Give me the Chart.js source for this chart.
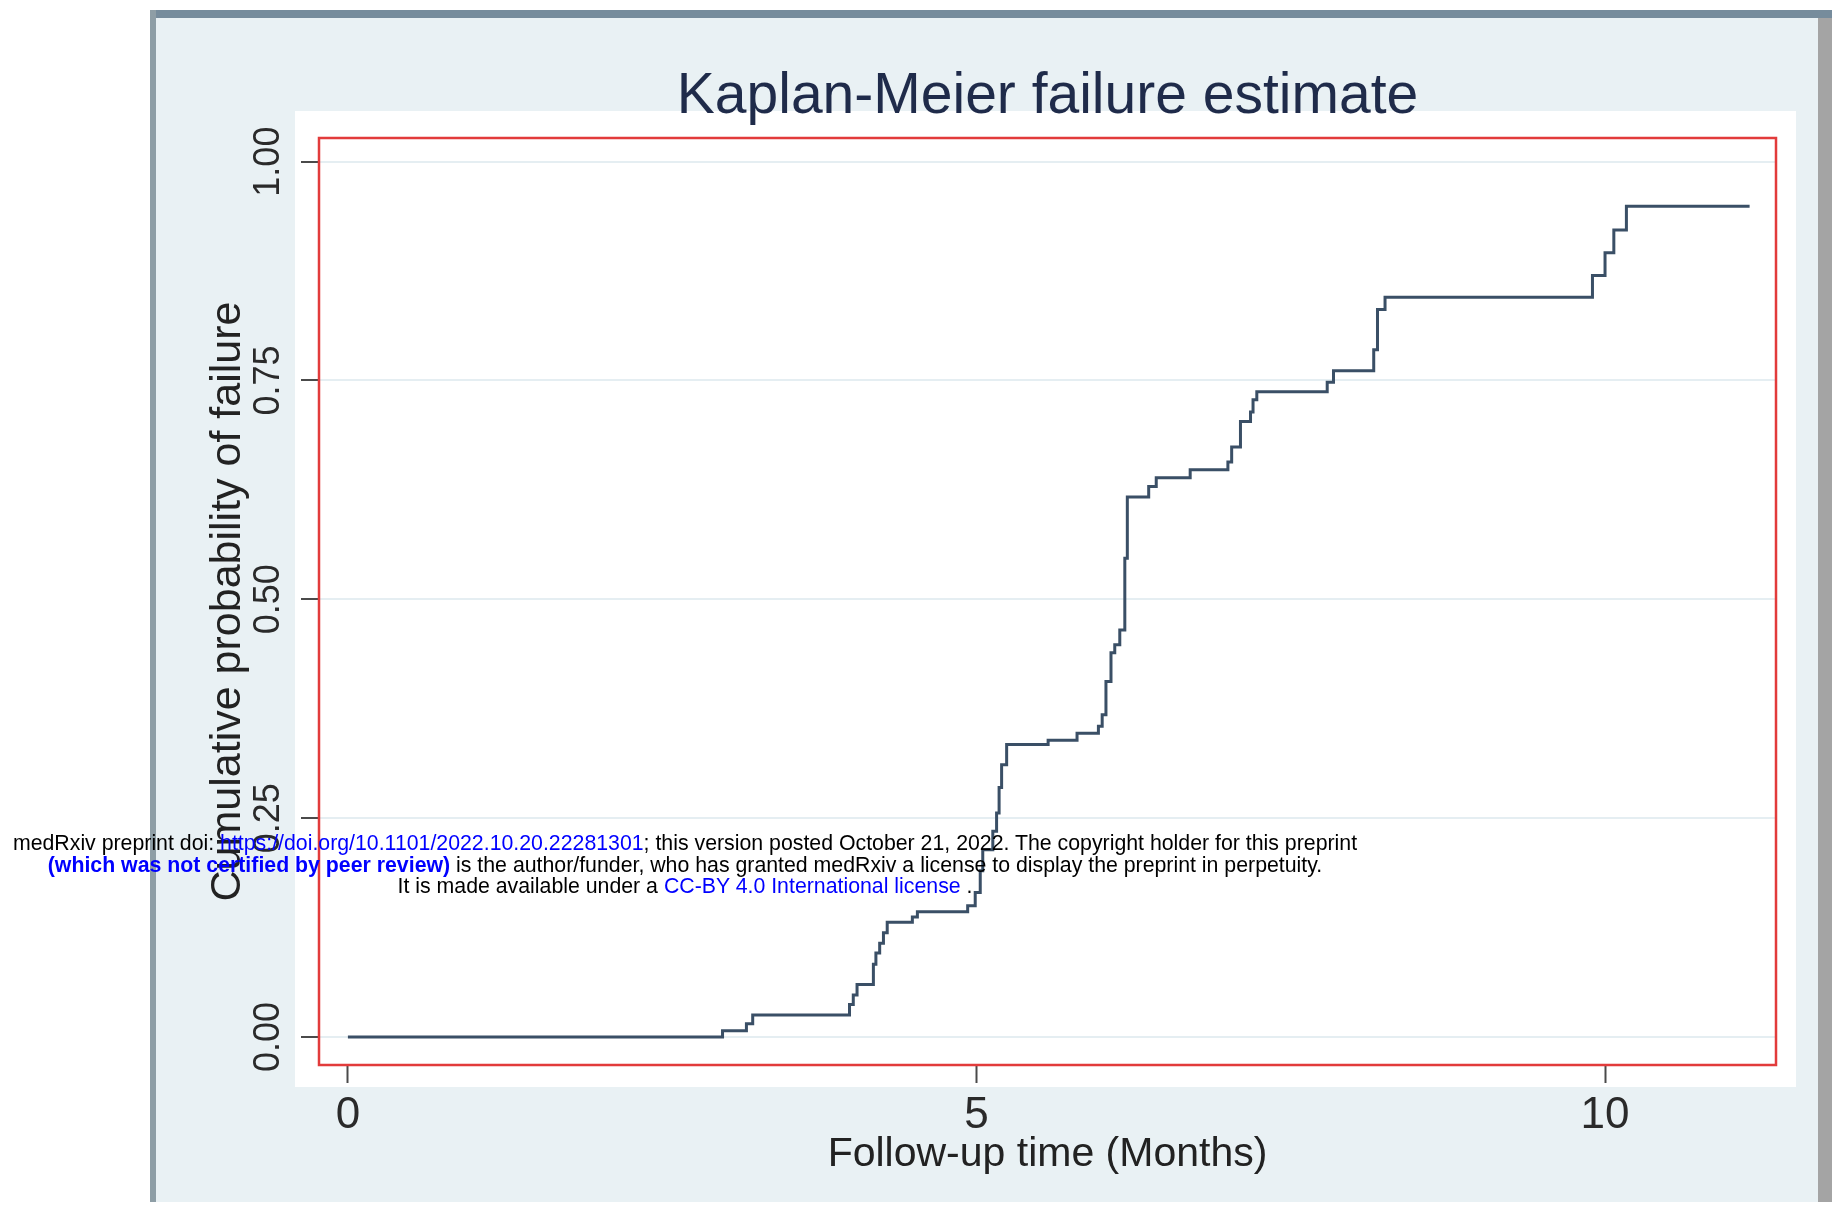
<!DOCTYPE html>
<html>
<head>
<meta charset="utf-8">
<script src="https://cdn.jsdelivr.net/npm/chart.js@4.4.1/dist/chart.umd.min.js"></script>
<style>
  html, body { margin: 0; padding: 0; background: #ffffff; }
  #wrap { position: relative; width: 1832px; height: 1205px; overflow: hidden; }
  #c { position: absolute; left: 0; top: 0; }
  #wm {
    position: absolute; left: 0; top: 833px; width: 1370px;
    text-align: center; font-family: "Liberation Sans", Arial, sans-serif;
    font-size: 21.3px; line-height: 21.6px; color: #000; white-space: nowrap;
  }
  #wm a { color: #0000ff; text-decoration: none; }
  #wm b { color: #0000ff; }
</style>
</head>
<body>
<div id="wrap">
  <canvas id="c" width="1832" height="1205"></canvas>
  <div id="wm">
    <div>medRxiv preprint doi: <a>https://doi.org/10.1101/2022.10.20.22281301</a>; this version posted October 21, 2022. The copyright holder for this preprint</div>
    <div><b>(which was not certified by peer review)</b> is the author/funder, who has granted medRxiv a license to display the preprint in perpetuity.</div>
    <div>It is made available under a <a>CC-BY 4.0 International license</a> .</div>
  </div>
</div>
<script>
// ---- data ----
const kmTimes = [0, 2.98, 3.17, 3.22, 3.99, 4.02, 4.05, 4.18, 4.20, 4.23, 4.26, 4.29, 4.49, 4.53, 4.93, 4.99, 5.03, 5.05, 5.13, 5.16, 5.18, 5.20, 5.24, 5.57, 5.80, 5.97, 6.00, 6.03, 6.07, 6.10, 6.14, 6.18, 6.20, 6.37, 6.43, 6.70, 7.00, 7.03, 7.10, 7.18, 7.20, 7.23, 7.79, 7.84, 8.16, 8.19, 8.25, 9.90, 10.00, 10.07, 10.17, 11.15];
const kmFailure = [0, 0.007, 0.015, 0.025, 0.037, 0.048, 0.060, 0.083, 0.096, 0.107, 0.119, 0.131, 0.137, 0.143, 0.150, 0.165, 0.190, 0.214, 0.235, 0.256, 0.285, 0.311, 0.334, 0.339, 0.347, 0.355, 0.368, 0.406, 0.439, 0.448, 0.465, 0.547, 0.617, 0.629, 0.639, 0.648, 0.657, 0.674, 0.703, 0.714, 0.728, 0.737, 0.748, 0.761, 0.785, 0.831, 0.845, 0.870, 0.896, 0.922, 0.949, 0.949];
const xTickValues = [0, 5, 10];
const yTickValues = [0, 0.25, 0.5, 0.75, 1];
const chartTitle = 'Kaplan-Meier failure estimate';
const xTitle = 'Follow-up time (Months)';
const yTitle = 'Cumulative probability of failure';

const points = kmTimes.map((t, i) => ({ x: t, y: kmFailure[i] }));
const FONT = '"Liberation Sans", Arial, sans-serif';

const framePlugin = {
  id: 'frame',
  beforeDraw(chart) {
    const ctx = chart.ctx;
    ctx.save();
    ctx.fillStyle = '#ffffff';
    ctx.fillRect(0, 0, 1832, 1205);
    ctx.fillStyle = '#e9f1f4';
    ctx.fillRect(150, 10, 1682, 1192);
    ctx.fillStyle = '#768c9c';
    ctx.fillRect(150, 10, 1682, 8);
    ctx.fillStyle = '#8e9ea6';
    ctx.fillRect(150, 10, 6, 1192);
    ctx.fillStyle = '#a4a4a4';
    ctx.fillRect(1818, 18, 14, 1184);
    ctx.fillStyle = '#ffffff';
    ctx.fillRect(295, 111, 1501, 976);
    ctx.restore();
  },
  afterDatasetsDraw(chart) {
    const a = chart.chartArea;
    const ctx = chart.ctx;
    ctx.save();
    ctx.strokeStyle = '#e23b3b';
    ctx.lineWidth = 2.5;
    ctx.strokeRect(a.left, a.top, a.right - a.left, a.bottom - a.top);
    ctx.restore();
  }
};

new Chart(document.getElementById('c'), {
  type: 'line',
  data: {
    datasets: [{
      data: points,
      stepped: true,
      borderColor: '#3a4f66',
      borderWidth: 3,
      pointRadius: 0,
      fill: false
    }]
  },
  options: {
    responsive: false,
    animation: false,
    devicePixelRatio: 1,
    layout: { padding: { top: 0, left: 0, right: 56, bottom: 0 } },
    plugins: {
      legend: { display: false },
      tooltip: { enabled: false },
      title: {
        display: true,
        text: chartTitle,
        fullSize: false,
        color: '#1f2b4a',
        font: { family: FONT, size: 57, weight: 'normal' },
        padding: { top: 63, bottom: 6.6 }
      }
    },
    scales: {
      x: {
        type: 'linear',
        min: -0.23,
        max: 11.36,
        afterBuildTicks: (s) => { s.ticks = xTickValues.map(v => ({ value: v })); },
        afterFit: (s) => { s.height = 140; },
        border: { display: false },
        grid: { drawOnChartArea: false, drawTicks: true, tickLength: 18, tickColor: '#4a4a4a', tickWidth: 2 },
        ticks: {
          color: '#2a2a2a',
          font: { family: FONT, size: 44 },
          padding: 6,
          maxRotation: 0,
          minRotation: 0,
          callback: (v) => String(v)
        },
        title: {
          display: true,
          text: xTitle,
          color: '#222222',
          font: { family: FONT, size: 41 },
          padding: { top: 0, bottom: 26 }
        }
      },
      y: {
        type: 'linear',
        min: -0.032,
        max: 1.027,
        afterBuildTicks: (s) => { s.ticks = yTickValues.map(v => ({ value: v })); },
        afterFit: (s) => { s.width = 319; },
        border: { display: false },
        grid: { color: '#e5eef2', lineWidth: 2, drawTicks: true, tickLength: 18, tickColor: '#4a4a4a', tickWidth: 2 },
        ticks: {
          color: '#2a2a2a',
          font: { family: FONT, size: 36 },
          padding: -3.5,
          minRotation: 90,
          maxRotation: 90,
          crossAlign: 'center',
          callback: (v) => Number(v).toFixed(2)
        },
        title: {
          display: true,
          text: yTitle,
          color: '#222222',
          font: { family: FONT, size: 43 },
          padding: { top: 202, bottom: 0 }
        }
      }
    }
  },
  plugins: [framePlugin]
});
</script>
</body>
</html>
